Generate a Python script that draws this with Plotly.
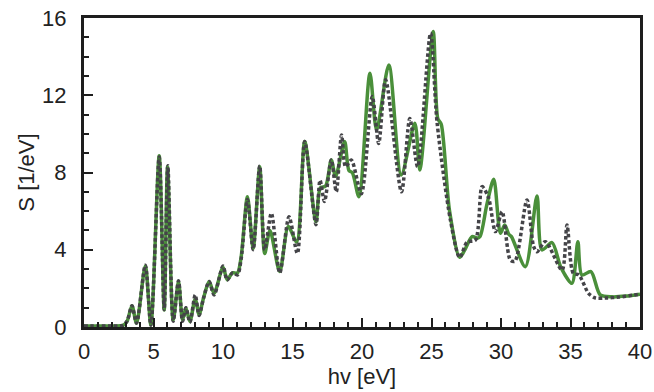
import plotly.graph_objects as go

# Green (solid) spectrum
green_x = [0, 1, 2, 2.8, 3.1, 3.45, 3.78, 4.41, 4.81, 5.41, 5.77, 6.01, 6.42, 6.8, 7.09, 7.33, 7.62,
           8.0, 8.28, 8.6, 9.0, 9.36, 10.0, 10.3, 10.68, 11.04, 11.3, 11.76, 12.17, 12.64, 13.0, 13.38,
           14.08, 14.7, 15.3, 15.88, 16.69, 17.0, 17.38, 17.79, 18.1, 18.75, 19.06, 19.3, 19.78, 20.57,
           21.05, 21.93, 22.82, 23.8, 24.16, 25.12, 25.45, 25.7, 26.3, 27.03, 27.4, 27.92, 28.3, 28.5,
           29.0, 29.48, 29.96, 30.27, 30.56, 30.75, 31.75, 32.59, 32.95, 33.67, 34.3, 35.1, 35.53, 35.82,
           36.47, 37.14, 38, 39, 40]
green_y = [0.05, 0.05, 0.05, 0.08, 0.3, 1.1, 0.2, 3.16, 0.1, 8.87, 0.88, 8.3, 0.36, 2.35, 0.36, 0.98, 0.28,
           1.45, 0.65, 1.5, 2.35, 1.75, 3.1, 2.45, 2.8, 2.8, 3.6, 6.75, 4.07, 8.3, 3.8, 5.0,
           2.87, 5.2, 4.4, 9.6, 5.45, 7.2, 7.3, 8.65, 7.8, 9.6, 8.1, 8.0, 6.75, 13.14,
           10.2, 13.57, 7.87, 10.55, 8.13, 15.3, 10.8, 10.5, 6.0, 3.61, 4.0, 4.68, 4.6, 4.7,
           6.4, 7.65, 4.85, 5.28, 4.8, 4.68, 3.12, 6.78, 3.99, 4.37, 3.1, 2.26, 4.42, 2.69,
           2.87, 1.66, 1.56, 1.6, 1.7]

# Dark grey (dotted) spectrum
grey_x = [0, 1, 2, 2.8, 3.1, 3.45, 3.78, 4.41, 4.81, 5.41, 5.77, 6.03, 6.42, 6.8, 7.09, 7.33, 7.62,
          8.0, 8.28, 8.6, 9.0, 9.36, 10.0, 10.3, 10.68, 11.04, 11.3, 11.76, 12.17, 12.64, 13.0, 13.48,
          14.08, 14.75, 15.35, 15.88, 16.69, 16.98, 17.3, 17.79, 18.15, 18.53, 18.82, 19.23, 19.95,
          20.74, 21.2, 21.7, 22.84, 23.44, 24.0, 24.93, 25.4, 26.36, 27.03, 27.56, 28.16, 28.64,
          29.1, 29.6, 30.08, 30.67, 31.0, 31.87, 32.35, 32.6, 33.19, 34.39, 34.75, 35.2, 35.6,
          36.3, 36.8, 37.5, 38.5, 39.5, 40]
grey_y = [0.05, 0.05, 0.05, 0.08, 0.3, 1.1, 0.2, 3.2, 0.1, 8.8, 0.9, 8.35, 0.3, 2.4, 0.3, 1.0, 0.25,
          1.66, 0.6, 1.5, 2.35, 1.66, 3.16, 2.43, 2.8, 2.7, 3.5, 6.6, 4.0, 8.34, 4.0, 5.89,
          2.8, 5.71, 3.81, 9.6, 5.3, 7.6, 6.5, 8.65, 7.0, 9.94, 8.3, 8.65, 6.9,
          11.93, 9.5, 12.8, 7.0, 10.8, 8.3, 15.21, 10.6, 5.54, 3.6, 4.4, 4.5, 7.27,
          6.7, 4.94, 5.97, 3.47, 3.4, 6.58, 4.16, 3.9, 4.42, 2.95, 5.28, 2.78, 2.7,
          1.74, 1.5, 1.5, 1.55, 1.65, 1.7]

x_ticks = [0, 5, 10, 15, 20, 25, 30, 35, 40]
y_ticks = [0, 4, 8, 12, 16]

FONT = "Liberation Sans, Arial, sans-serif"

fig = go.Figure()
fig.add_trace(go.Scatter(x=green_x, y=green_y, mode="lines",
                         line=dict(color="#4a8f3a", width=3.5, shape="spline", smoothing=0.8),
                         showlegend=False, hoverinfo="skip"))
fig.add_trace(go.Scatter(x=grey_x, y=grey_y, mode="lines",
                         line=dict(color="#444448", width=3.5, dash="3.5px,2.5px", shape="spline", smoothing=0.8),
                         showlegend=False, hoverinfo="skip"))

axis_common = dict(showline=True, linecolor="#1e1e1e", linewidth=3, mirror=True, automargin=False,
                   showgrid=False, zeroline=False, ticks="inside", ticklen=9, tickwidth=2,
                   tickcolor="#1e1e1e",
                   tickfont=dict(family=FONT, size=22, color="#222"))

fig.update_xaxes(range=[0, 40], tickvals=x_ticks, ticklabelstandoff=3,
                 minor=dict(dtick=1, ticks="inside", ticklen=5, tickwidth=1.5, tickcolor="#1e1e1e"),
                 title=dict(text="hv [eV]", font=dict(family=FONT, size=22, color="#222"), standoff=2),
                 **axis_common)
fig.update_yaxes(range=[0, 16], tickvals=y_ticks, ticklabelstandoff=10,
                 minor=dict(dtick=1, ticks="inside", ticklen=5, tickwidth=1.5, tickcolor="#1e1e1e"),
                 title=dict(text="S [1/eV]", font=dict(family=FONT, size=22, color="#222"), standoff=2),
                 **axis_common)

fig.update_layout(width=654, height=392, margin=dict(l=84, r=14, t=18, b=65),
                  plot_bgcolor="white", paper_bgcolor="white")

fig.write_html("out.html", config={"displayModeBar": False},
               post_script="document.body.style.margin='0';document.body.style.padding='0';")
